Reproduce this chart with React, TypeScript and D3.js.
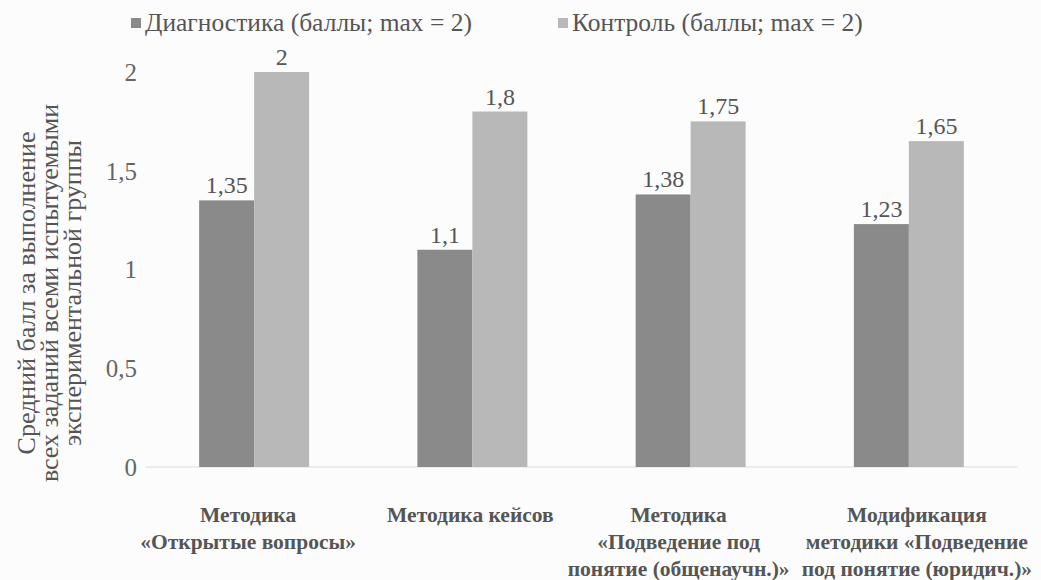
import React from "react";
import * as d3 from "d3";

const W = 1041;
const H = 580;

const categories = [
  ["Методика", "«Открытые вопросы»"],
  ["Методика кейсов"],
  ["Методика", "«Подведение под", "понятие (общенаучн.)»"],
  ["Модификация", "методики «Подведение", "под понятие (юридич.)»"],
];
const seriesNames = ["Диагностика (баллы; max = 2)", "Контроль (баллы; max = 2)"];
const diagnostika = [1.35, 1.1, 1.38, 1.23];
const kontrol = [2, 1.8, 1.75, 1.65];
const yTicks = [0, 0.5, 1, 1.5, 2];
const yTitle = [
  "Средний балл за выполнение",
  "всех заданий всеми испытуемыми",
  "экспериментальной группы",
];

const colors = ["#8a8a8a", "#b8b8b8"];
// nudges for wrapped category labels (scan layout)
const labelShift = [-6, -2, -12, 8];

const FONT = "Liberation Serif";

const fmt = (v: number) => String(v).replace(".", ",");

const App = () => {
  const x0 = d3
    .scaleBand()
    .domain(categories.map((_, i) => String(i)))
    .range([145, 1018]);
  const inner = 110;
  const offs = (x0.bandwidth() - inner) / 2;
  const xs = d3.scaleBand().domain(["0", "1"]).range([offs, offs + inner]);
  const y = d3.scaleLinear().domain([0, 2]).range([467, 72]);

  const series = [diagnostika, kontrol];

  return (
    <svg
      width={W}
      height={H}
      style={{ position: "absolute", left: 0, top: 0, background: "#fcfcfc" }}
    >
      {/* legend */}
      {seriesNames.map((n, i) => (
        <g key={n} transform={`translate(${i === 0 ? 131 : 558},0)`}>
          <rect x={0} y={18} width={10} height={10} fill={colors[i]} />
          <text x={14} y={31} fontSize={25.5} fill="#555" fontFamily={FONT}>
            {n}
          </text>
        </g>
      ))}

      {/* y axis ticks */}
      {yTicks.map((t) => (
        <text
          key={t}
          x={137}
          y={y(t)}
          dy="0.35em"
          textAnchor="end"
          fontSize={25}
          fill="#666"
          fontFamily={FONT}
        >
          {fmt(t)}
        </text>
      ))}
      <line x1={145} x2={1018} y1={y(0)} y2={y(0)} stroke="#dcdcdc" />

      {/* y title */}
      {yTitle.map((l, i) => (
        <text
          key={l}
          transform={`translate(${35 + i * 23},293) rotate(-90)`}
          textAnchor="middle"
          fontSize={26}
          fill="#555"
          fontFamily={FONT}
        >
          {l}
        </text>
      ))}

      {/* bars */}
      {categories.map((_, ci) => (
        <g key={ci} transform={`translate(${x0(String(ci))},0)`}>
          {series.map((s, si) => (
            <g key={si}>
              <rect
                x={xs(String(si))}
                y={y(s[ci])}
                width={xs.bandwidth()}
                height={y(0) - y(s[ci])}
                fill={colors[si]}
              />
              <text
                x={(xs(String(si)) as number) + xs.bandwidth() / 2}
                y={y(s[ci]) - 7}
                textAnchor="middle"
                fontSize={24}
                fill="#555"
                fontFamily={FONT}
              >
                {fmt(s[ci])}
              </text>
            </g>
          ))}
        </g>
      ))}

      {/* category labels */}
      {categories.map((lines, ci) => {
        const cx = (x0(String(ci)) as number) + x0.bandwidth() / 2 + labelShift[ci];
        return (
          <text
            key={ci}
            x={cx}
            y={522}
            textAnchor="middle"
            fontSize={21.5}
            fontWeight="bold"
            fill="#555"
            fontFamily={FONT}
          >
            {lines.map((l, li) => (
              <tspan key={li} x={cx} dy={li === 0 ? 0 : 27}>
                {l}
              </tspan>
            ))}
          </text>
        );
      })}
    </svg>
  );
};

export default App;
